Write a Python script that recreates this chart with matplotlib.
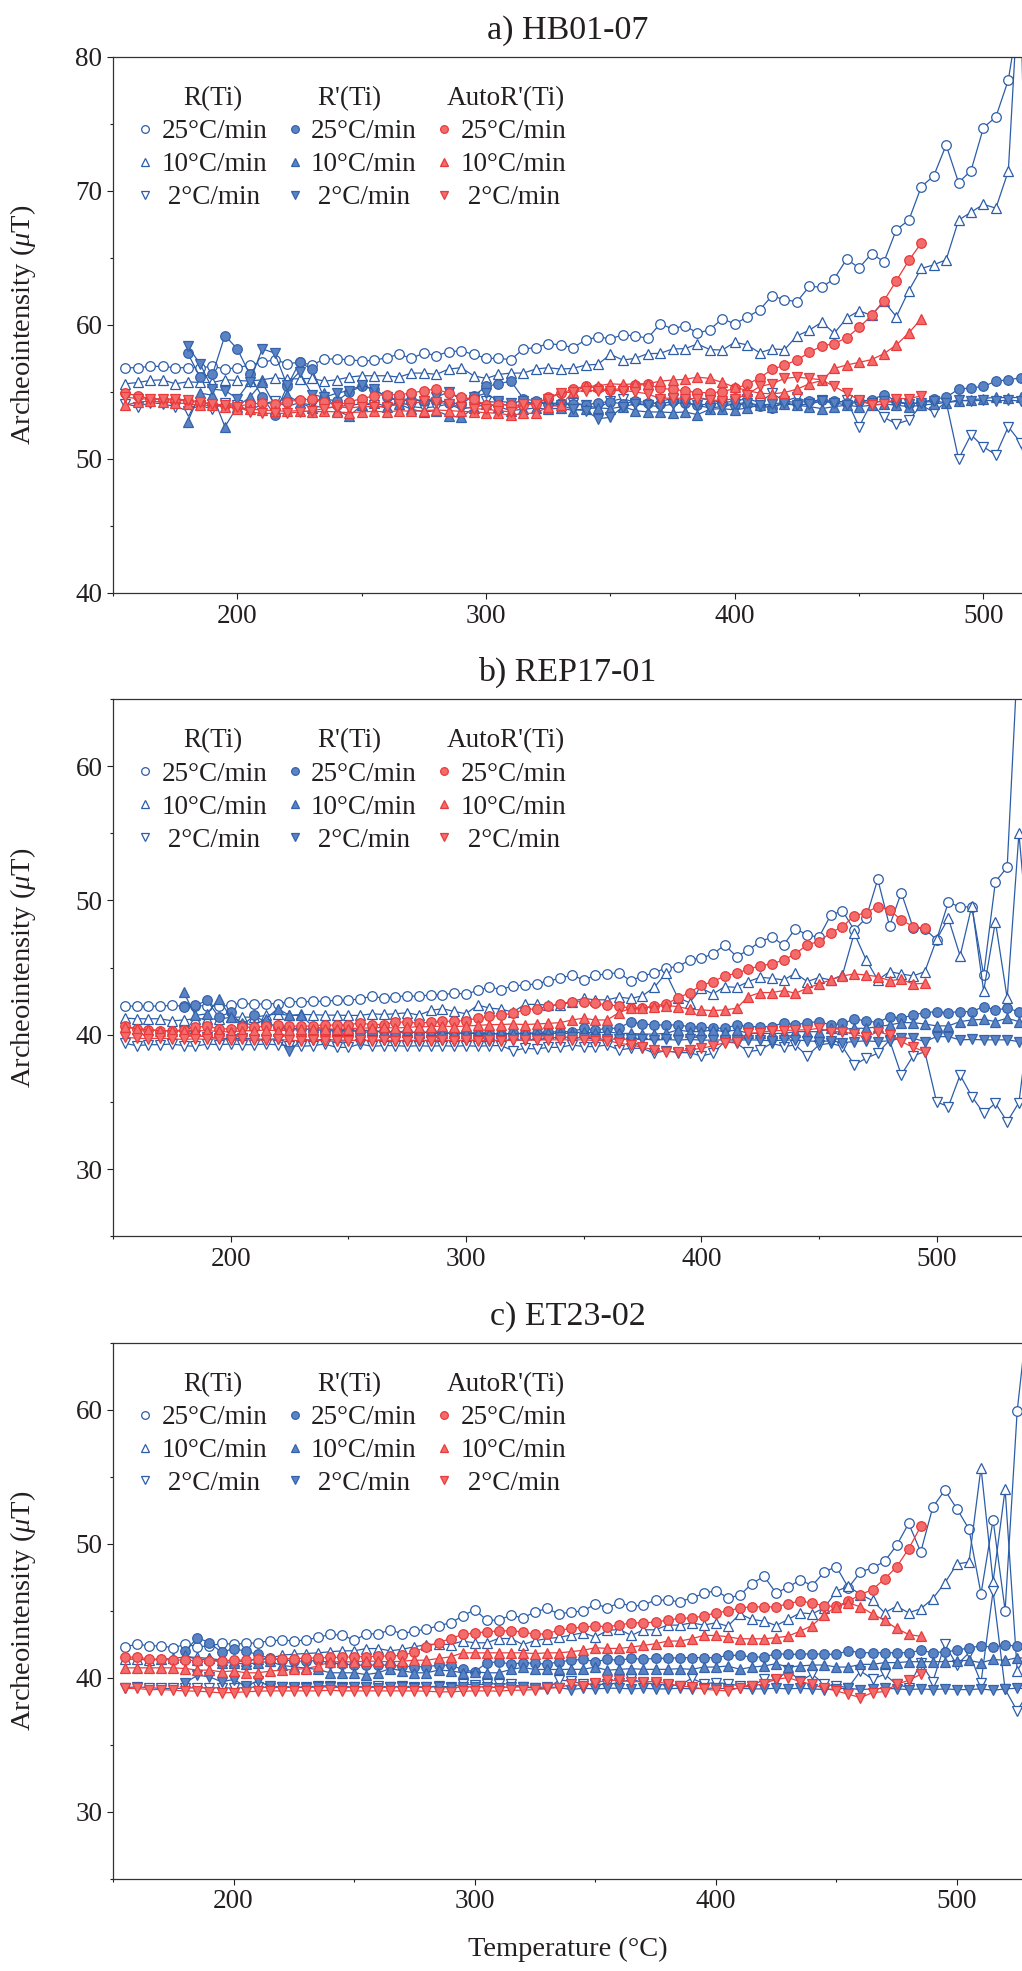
import numpy as np
import matplotlib
matplotlib.use("Agg")
import matplotlib.pyplot as plt
from matplotlib.ticker import MultipleLocator
from matplotlib.lines import Line2D

plt.rcParams['font.family'] = ['Liberation Serif', 'DejaVu Serif']
plt.rcParams['mathtext.fontset'] = 'custom'
plt.rcParams['mathtext.rm'] = 'Liberation Serif'
plt.rcParams['mathtext.it'] = 'Liberation Serif:italic'
TXT = '#231f20'
plt.rcParams['text.color'] = TXT
plt.rcParams['axes.labelcolor'] = TXT
plt.rcParams['xtick.color'] = TXT
plt.rcParams['ytick.color'] = TXT

# ---------------- data (temperature step 5 °C) ----------------
titles = ["a) HB01-07", "b) REP17-01", "c) ET23-02"]
rate_labels = ["25°C/min", "10°C/min", " 2°C/min"]
group_labels = ["R(Ti)", "R'(Ti)", "AutoR'(Ti)"]
xlims = [(150, 515.5), (150, 536.3), (150, 527)]
ylims = [(40, 80), (25, 65), (25, 65)]
yticks_a = [40, 50, 60, 70, 80]
yticks_bc = [30, 40, 50, 60]
xticks = [200, 300, 400, 500]

# ---- panel a: HB01-07 ----
a_R25_start = 155
a_R25 = [56.8, 56.8, 56.9, 56.9, 56.8, 56.8, 56.8, 56.9, 56.7, 56.8,
         57.0, 57.2, 57.4, 57.1, 57.2, 57.0, 57.45, 57.45, 57.4, 57.3,
         57.35, 57.55, 57.8, 57.5, 57.9, 57.7, 58.0, 58.05, 57.8, 57.5,
         57.5, 57.4, 58.2, 58.3, 58.6, 58.5, 58.3, 58.87, 59.1, 58.95,
         59.26, 59.17, 59.0, 60.07, 59.7, 59.94, 59.37, 59.64, 60.46, 60.06,
         60.58, 61.1, 62.17, 61.87, 61.72, 62.87, 62.8, 63.44, 64.9, 64.24,
         65.3, 64.71, 67.1, 67.8, 70.3, 71.1, 73.4, 70.6, 71.5, 74.7,
         75.5, 78.26, 84.0, 45.0]
a_R10_start = 155
a_R10 = [55.6, 55.7, 55.85, 55.9, 55.6, 55.75, 55.7, 55.7, 55.9, 55.85,
         55.8, 55.9, 56.05, 55.95, 55.98, 56.0, 55.8, 55.9, 56.1, 56.2,
         56.2, 56.2, 56.1, 56.4, 56.4, 56.3, 56.7, 56.8, 56.2, 56.0,
         56.3, 56.4, 56.4, 56.7, 56.8, 56.7, 56.75, 57.0, 57.05, 57.8,
         57.37, 57.5, 57.85, 57.87, 58.2, 58.22, 58.57, 58.15, 58.12, 58.7,
         58.5, 57.92, 58.2, 58.15, 59.17, 59.6, 60.2, 59.37, 60.5, 61.05,
         60.7, 61.75, 60.6, 62.55, 64.2, 64.47, 64.85, 67.8, 68.4, 68.98,
         68.7, 71.47, 88.0]
a_R2_start = 155
a_R2 = [54.1, 53.9, 54.2, 54.1, 53.9, 53.6, 54.0, 53.7, 54.2, 54.0,
        53.6, 54.1, 54.3, 53.9, 54.2, 54.0, 53.8, 53.9, 54.0, 54.1,
        54.0, 53.8, 54.3, 53.9, 53.8, 53.9, 54.1, 53.7, 53.9, 54.3,
        54.2, 53.9, 54.0, 54.2, 54.1, 53.9, 54.2, 54.0, 53.8, 54.3,
        54.5, 54.2, 54.0, 54.3, 54.5, 54.3, 54.6, 54.4, 54.2, 54.3,
        54.5, 54.2, 54.9, 54.3, 54.6, 54.2, 54.4, 54.1, 54.4, 52.4,
        54.2, 53.1, 52.6, 52.9, 54.0, 53.5, 54.25, 50.0, 51.8, 50.9,
        50.3, 52.4, 51.2, 47.0]
a_Rp25_start = 180
a_Rp25 = [57.9, 56.1, 56.3, 59.2, 58.2, 56.3, 54.6, 53.3, 55.4, 57.2,
          56.7, 54.5, 54.3, 55.0, 55.4, 55.2, 54.6, 54.3, 54.4, 54.3,
          54.4, 54.2, 54.1, 54.7, 55.4, 55.6, 55.8, 54.5, 54.3, 54.1,
          54.2, 54.1, 54.0, 54.2, 54.25, 54.1, 54.3, 54.2, 54.1, 54.3,
          54.2, 54.0, 54.1, 54.2, 54.0, 54.1, 53.95, 53.8, 54.3, 54.2,
          54.3, 54.4, 54.35, 54.2, 54.3, 54.4, 54.8, 54.3, 54.1, 54.2,
          54.45, 54.6, 55.2, 55.3, 55.4, 55.8, 55.9, 56.05]
a_Rp10_start = 180
a_Rp10 = [52.75, 54.9, 54.75, 52.4, 53.9, 54.6, 55.7, 54.0, 54.75, 54.2,
          53.8, 54.9, 53.6, 53.2, 54.0, 54.2, 53.9, 54.1, 53.7, 53.5,
          53.6, 53.2, 53.1, 53.8, 54.1, 53.9, 53.6, 53.7, 53.8, 53.7,
          53.8, 53.6, 53.75, 53.8, 53.75, 53.9, 53.6, 53.5, 53.5, 53.45,
          53.5, 53.3, 53.7, 53.75, 53.65, 53.8, 54.0, 53.9, 54.1, 54.0,
          53.9, 53.75, 53.9, 54.0, 53.9, 54.0, 54.1, 54.0, 53.9, 54.0,
          54.1, 54.2, 54.3, 54.4, 54.5, 54.6, 54.55, 54.6]
a_Rp2_start = 180
a_Rp2 = [58.4, 57.1, 55.2, 55.1, 54.5, 55.75, 58.2, 57.9, 55.5, 56.5,
         54.8, 54.6, 54.9, 55.1, 55.5, 55.2, 54.6, 54.4, 54.5, 54.3,
         54.6, 55.0, 54.4, 54.6, 54.9, 54.3, 54.2, 54.3, 54.1, 54.2,
         54.0, 53.7, 53.6, 53.0, 53.1, 53.9, 54.1, 54.0, 53.9, 54.1,
         54.2, 54.0, 53.8, 53.9, 54.1, 54.2, 54.0, 54.1, 54.2, 54.0,
         54.1, 54.3, 54.2, 54.0, 54.3, 54.2, 54.3, 54.2, 54.1, 54.2,
         54.3, 54.2, 54.4, 54.3, 54.4, 54.3, 54.4, 54.3]
a_A25_start = 155
a_A25 = [54.9, 54.7, 54.5, 54.4, 54.4, 54.3, 54.2, 54.1, 54.0, 53.9,
         54.1, 54.15, 54.1, 54.25, 54.4, 54.45, 54.25, 54.0, 54.25, 54.5,
         54.7, 54.8, 54.8, 54.9, 55.1, 55.2, 54.9, 54.6, 54.45, 54.0,
         54.05, 54.0, 54.0, 54.1, 54.6, 54.9, 55.2, 55.44, 55.26, 55.14,
         55.26, 55.5, 55.55, 55.26, 55.18, 55.08, 54.94, 54.94, 55.0, 55.26,
         55.55, 56.05, 56.67, 57.0, 57.37, 57.95, 58.42, 58.6, 59.04, 59.8,
         60.7, 61.8, 63.3, 64.8, 66.1]
a_A10_start = 155
a_A10 = [54.0, 54.25, 54.3, 54.25, 54.2, 54.1, 54.0, 54.0, 53.9, 53.75,
         53.7, 53.65, 53.6, 53.55, 53.6, 53.5, 53.55, 53.5, 53.45, 53.5,
         53.55, 53.5, 53.6, 53.55, 53.6, 53.65, 53.6, 53.55, 53.5, 53.45,
         53.4, 53.25, 53.4, 53.4, 53.9, 54.0, 55.0, 55.4, 55.45, 55.6,
         55.55, 55.6, 55.6, 55.8, 55.88, 55.93, 56.1, 56.0, 55.7, 55.35,
         55.1, 54.9, 54.85, 54.95, 55.2, 55.6, 55.85, 56.75, 57.0, 57.2,
         57.4, 57.85, 58.5, 59.4, 60.45]
a_A2_start = 155
a_A2 = [54.6, 54.5, 54.45, 54.5, 54.45, 54.4, 54.25, 54.1, 54.0, 53.9,
        53.5, 53.4, 53.4, 53.4, 53.5, 53.6, 53.75, 53.9, 53.8, 53.9,
        53.9, 53.9, 54.1, 54.1, 54.3, 54.25, 54.1, 53.9, 53.75, 53.7,
        53.6, 53.5, 54.1, 54.1, 54.5, 54.9, 55.0, 55.1, 55.1, 55.1,
        55.1, 55.0, 54.85, 54.5, 54.55, 54.5, 54.5, 54.4, 54.35, 54.5,
        54.8, 55.4, 55.6, 56.0, 56.1, 56.0, 55.9, 55.4, 54.9, 54.4,
        54.0, 54.1, 54.5, 54.5, 54.7]

# ---- panel b: REP17-01 ----
b_R25_start = 155
b_R25 = [42.13, 42.13, 42.13, 42.13, 42.18, 42.13, 42.15, 42.16, 42.13, 42.18,
         42.36, 42.26, 42.31, 42.31, 42.46, 42.46, 42.48, 42.51, 42.56, 42.56,
         42.68, 42.86, 42.73, 42.83, 42.9, 42.86, 42.98, 42.98, 43.1, 43.03,
         43.3, 43.56, 43.36, 43.66, 43.68, 43.8, 44.0, 44.2, 44.45, 44.08,
         44.43, 44.53, 44.63, 44.0, 44.4, 44.58, 45.0, 45.05, 45.57, 45.7,
         46.02, 46.69, 45.82, 46.3, 46.94, 47.26, 46.69, 47.9, 47.43, 47.26,
         48.9, 49.24, 47.8, 48.67, 51.58, 48.1, 50.58, 47.98, 47.88, 47.06,
         49.89, 49.49, 49.54, 44.45, 51.4, 52.47, 70.0, 60.0]
b_R10_start = 155
b_R10 = [41.24, 41.19, 41.19, 41.19, 41.04, 41.1, 41.19, 41.19, 41.15, 41.31,
         41.31, 41.31, 41.44, 41.56, 41.44, 41.51, 41.49, 41.46, 41.46, 41.44,
         41.44, 41.56, 41.51, 41.56, 41.64, 41.46, 41.81, 41.94, 41.74, 41.56,
         42.21, 41.99, 41.9, 41.69, 42.26, 42.26, 42.21, 42.18, 42.47, 42.7,
         42.6, 42.6, 42.8, 42.7, 42.9, 43.53, 44.58, 42.77, 42.39, 43.46,
         43.04, 43.58, 43.53, 43.96, 44.28, 44.2, 44.08, 44.58, 43.96, 44.26,
         44.08, 44.45, 47.56, 45.6, 44.08, 44.7, 44.53, 44.38, 44.7, 47.1,
         48.67, 45.87, 49.62, 43.26, 48.42, 42.72, 55.0, 45.0]
b_R2_start = 155
b_R2 = [39.36, 39.19, 39.26, 39.26, 39.31, 39.19, 39.14, 39.31, 39.26, 39.31,
        39.26, 39.26, 39.31, 39.25, 39.19, 39.14, 39.19, 39.31, 39.06, 39.06,
        39.31, 39.14, 39.19, 39.19, 39.14, 39.19, 39.14, 39.19, 39.14, 39.19,
        39.14, 39.19, 39.19, 38.81, 38.99, 38.94, 39.06, 39.06, 39.24, 39.12,
        39.12, 39.24, 38.87, 38.99, 38.99, 38.62, 38.82, 38.67, 38.67, 38.42,
        38.62, 39.49, 39.37, 38.74, 38.87, 39.37, 39.12, 39.24, 38.42, 39.24,
        39.37, 39.12, 37.75, 38.25, 38.62, 39.6, 37.01, 38.42, 38.74, 35.0,
        34.65, 37.0, 35.4, 34.15, 34.9, 33.53, 34.95, 42.0]
b_Rp25_start = 180
b_Rp25 = [42.06, 42.18, 42.56, 41.31, 41.69, 40.69, 41.44, 40.9, 40.6, 40.5,
          40.45, 40.4, 40.3, 40.3, 40.35, 40.2, 40.2, 40.25, 40.15, 40.2,
          40.15, 40.2, 40.1, 40.15, 40.1, 40.15, 40.1, 40.05, 40.1, 40.1,
          40.15, 40.2, 40.23, 40.23, 40.48, 40.35, 40.48, 40.48, 40.98, 40.8,
          40.73, 40.73, 40.73, 40.6, 40.6, 40.48, 40.48, 40.73, 40.6, 40.6,
          40.6, 40.9, 40.73, 40.9, 40.98, 40.73, 40.85, 41.15, 41.05, 40.9,
          41.35, 41.23, 41.48, 41.65, 41.72, 41.65, 41.72, 41.72, 42.1, 41.85,
          41.97, 41.72]
b_Rp10_start = 180
b_Rp10 = [43.18, 41.44, 41.56, 42.68, 41.31, 40.9, 40.7, 41.2, 41.94, 41.44,
          41.44, 40.6, 40.45, 40.35, 40.4, 40.3, 40.35, 40.2, 40.25, 40.2,
          40.15, 40.2, 40.1, 40.15, 40.1, 40.1, 40.05, 40.1, 40.05, 40.1,
          40.05, 40.1, 40.1, 40.1, 40.23, 40.1, 40.23, 40.1, 40.1, 40.05,
          40.05, 40.1, 40.36, 40.23, 40.23, 40.36, 40.23, 40.36, 40.1, 40.1,
          40.1, 40.1, 40.23, 40.23, 40.23, 40.48, 40.4, 40.48, 40.48, 40.6,
          40.73, 40.9, 40.9, 40.8, 40.66, 40.66, 40.98, 41.1, 41.15, 40.98,
          41.23, 40.98]
b_Rp2_start = 180
b_Rp2 = [40.26, 40.0, 39.8, 39.75, 39.7, 39.75, 39.7, 39.65, 39.7, 38.76,
         39.65, 39.6, 39.65, 39.6, 39.6, 39.55, 39.6, 39.6, 39.55, 39.6,
         39.55, 39.6, 39.6, 39.55, 39.6, 39.6, 39.55, 39.6, 39.6, 39.6,
         39.65, 39.7, 39.86, 39.8, 39.75, 39.7, 39.65, 39.7, 39.65, 39.7,
         39.6, 39.65, 39.6, 39.65, 39.6, 39.6, 39.62, 39.6, 39.62, 39.6,
         39.55, 39.6, 39.62, 39.55, 39.49, 39.55, 39.42, 39.49, 39.55, 39.49,
         39.55, 39.74, 39.74, 39.49, 39.86, 39.86, 39.62, 39.65, 39.62, 39.62,
         39.62, 39.49]
b_A25_start = 155
b_A25 = [40.64, 40.44, 40.39, 40.31, 40.26, 40.39, 40.56, 40.64, 40.44, 40.44,
         40.56, 40.56, 40.64, 40.69, 40.64, 40.64, 40.64, 40.76, 40.69, 40.76,
         40.86, 40.76, 40.76, 40.94, 40.94, 40.86, 40.94, 41.01, 41.01, 41.06,
         41.24, 41.36, 41.44, 41.61, 41.86, 41.94, 42.11, 42.31, 42.47, 42.47,
         42.34, 42.22, 42.15, 41.97, 42.0, 42.15, 42.3, 42.72, 43.14, 43.68,
         43.96, 44.38, 44.58, 44.87, 45.15, 45.27, 45.57, 46.02, 46.71, 46.94,
         47.6, 48.05, 48.85, 49.1, 49.54, 49.29, 48.55, 48.05, 47.93]
b_A10_start = 155
b_A10 = [40.56, 40.45, 40.35, 40.3, 40.3, 40.25, 40.3, 40.3, 40.25, 40.2,
         40.3, 40.3, 40.35, 40.3, 40.35, 40.4, 40.4, 40.45, 40.4, 40.45,
         40.5, 40.5, 40.55, 40.5, 40.55, 40.6, 40.6, 40.65, 40.6, 40.65,
         40.7, 40.75, 40.76, 40.8, 40.76, 40.8, 40.85, 40.9, 41.1, 41.23,
         41.1, 41.1, 41.65, 41.97, 41.97, 42.1, 42.17, 42.1, 41.9, 41.85,
         41.8, 41.85, 41.97, 42.84, 43.14, 43.14, 43.29, 43.09, 43.46, 43.78,
         44.08, 44.38, 44.53, 44.45, 44.33, 44.03, 44.13, 43.78, 43.83]
b_A2_start = 155
b_A2 = [39.8, 39.75, 39.7, 39.75, 39.7, 39.65, 39.7, 39.65, 39.7, 39.6,
        39.65, 39.6, 39.6, 39.65, 39.6, 39.55, 39.6, 39.55, 39.5, 39.55,
        39.6, 39.55, 39.6, 39.55, 39.55, 39.6, 39.55, 39.6, 39.55, 39.6,
        39.55, 39.6, 39.55, 39.6, 39.6, 39.6, 39.62, 39.62, 39.62, 39.62,
        39.57, 39.57, 39.37, 39.24, 39.07, 38.87, 38.74, 38.74, 38.87, 38.99,
        39.17, 39.42, 39.49, 40.11, 40.16, 40.31, 40.31, 40.36, 40.36, 40.48,
        40.23, 40.23, 40.04, 39.81, 40.23, 39.98, 39.49, 39.07, 38.74]

# ---- panel c: ET23-02 ----
c_R25_start = 155
c_R25 = [42.29, 42.49, 42.36, 42.36, 42.21, 42.49, 42.29, 42.36, 42.54, 42.49,
         42.54, 42.59, 42.74, 42.79, 42.74, 42.79, 42.99, 43.21, 43.16, 42.79,
         43.23, 43.28, 43.53, 43.28, 43.46, 43.61, 43.86, 44.08, 44.58, 45.07,
         44.28, 44.28, 44.65, 44.45, 44.9, 45.15, 44.73, 44.9, 44.95, 45.5,
         45.2, 45.57, 45.32, 45.4, 45.79, 45.77, 45.65, 45.94, 46.27, 46.49,
         45.94, 46.14, 47.01, 47.55, 46.31, 46.74, 47.28, 46.86, 47.88, 48.27,
         46.7, 47.88, 48.18, 48.67, 49.86, 51.5, 49.37, 52.71, 53.98, 52.59,
         51.08, 46.24, 51.77, 45.0, 59.88, 68.0]
c_R10_start = 155
c_R10 = [41.37, 41.37, 41.29, 41.37, 41.42, 41.54, 41.5, 41.42, 41.3, 41.2,
         41.22, 41.37, 41.42, 41.67, 41.74, 41.79, 41.84, 41.92, 41.99, 41.99,
         42.16, 42.16, 41.99, 42.11, 42.29, 42.46, 42.49, 42.46, 42.71, 42.59,
         42.59, 42.91, 42.91, 42.46, 42.74, 42.91, 42.99, 43.17, 43.34, 43.02,
         43.51, 43.59, 43.14, 43.56, 43.56, 43.91, 43.91, 44.08, 43.91, 44.08,
         43.83, 44.75, 44.33, 44.21, 43.88, 44.33, 44.83, 44.75, 45.2, 46.44,
         46.81, 46.19, 45.75, 44.83, 45.32, 44.83, 45.13, 45.89, 47.06, 48.47,
         48.62, 55.67, 47.13, 54.05, 40.5, 42.0]
c_R2_start = 155
c_R2 = [39.25, 39.3, 39.25, 39.18, 39.18, 39.2, 39.25, 39.2, 39.25, 39.2,
        39.25, 39.3, 39.25, 39.3, 39.25, 39.3, 39.35, 39.4, 39.3, 39.3,
        39.3, 39.35, 39.3, 39.35, 39.3, 39.3, 39.35, 39.3, 39.5, 39.45,
        39.5, 39.55, 39.5, 39.3, 39.2, 39.15, 39.8, 39.74, 39.49, 39.49,
        39.49, 39.62, 39.87, 39.62, 39.49, 39.45, 39.4, 39.94, 39.54, 39.62,
        39.54, 39.37, 39.37, 39.87, 39.79, 40.54, 39.74, 40.24, 39.49, 39.37,
        39.25, 40.49, 39.87, 40.24, 39.49, 39.25, 41.11, 39.69, 42.47, 40.93,
        41.85, 39.62, 46.44, 39.12, 37.51, 39.0]
c_Rp25_start = 180
c_Rp25 = [41.99, 42.96, 42.61, 41.87, 42.16, 41.96, 41.72, 41.42, 41.3, 41.25,
          41.2, 41.29, 41.1, 41.0, 40.95, 40.9, 40.95, 40.9, 40.85, 40.8,
          40.8, 40.92, 40.92, 40.6, 40.42, 41.1, 41.17, 41.0, 41.1, 41.05,
          41.0, 41.17, 41.28, 41.36, 41.18, 41.36, 41.28, 41.43, 41.36, 41.43,
          41.43, 41.48, 41.48, 41.48, 41.48, 41.65, 41.65, 41.53, 41.53, 41.78,
          41.73, 41.73, 41.78, 41.73, 41.73, 42.0, 41.85, 41.85, 41.85, 41.85,
          41.85, 42.03, 41.85, 41.92, 42.03, 42.22, 42.35, 42.27, 42.42, 42.35, 42.3]
c_Rp10_start = 180
c_Rp10 = [41.67, 41.29, 41.42, 41.1, 41.1, 41.0, 41.1, 41.2, 40.9, 40.8,
          40.7, 40.6, 40.35, 40.35, 40.35, 40.22, 40.35, 40.67, 40.5, 40.35,
          40.35, 40.55, 40.5, 40.35, 40.42, 40.35, 40.35, 40.6, 40.75, 40.6,
          40.6, 40.6, 40.61, 40.61, 40.78, 40.54, 40.61, 40.66, 40.61, 40.61,
          40.61, 40.66, 40.61, 40.78, 40.78, 40.86, 40.61, 40.78, 40.86, 41.03,
          40.78, 40.86, 40.93, 40.93, 40.78, 40.78, 40.98, 40.98, 41.11, 41.11,
          41.18, 41.18, 41.18, 41.18, 41.23, 41.28, 41.1, 41.35, 41.28, 41.48, 41.4]
c_Rp2_start = 180
c_Rp2 = [39.6, 40.17, 40.05, 39.68, 39.85, 39.35, 39.75, 39.35, 39.3, 39.3,
         39.25, 39.3, 39.3, 39.25, 39.3, 39.3, 39.25, 39.3, 39.3, 39.25,
         39.3, 39.3, 39.25, 39.3, 39.3, 39.3, 39.25, 39.3, 39.3, 39.25,
         39.3, 39.25, 39.1, 39.2, 39.15, 39.2, 39.2, 39.15, 39.2, 39.15,
         39.15, 39.2, 39.15, 39.2, 39.2, 39.15, 39.2, 39.15, 39.15, 39.2,
         39.15, 39.2, 39.15, 39.1, 39.15, 39.2, 39.1, 39.15, 39.2, 39.15,
         39.1, 39.15, 39.1, 39.15, 39.1, 39.1, 39.15, 39.05, 39.15, 39.2, 39.15]
c_A25_start = 155
c_A25 = [41.54, 41.5, 41.4, 41.35, 41.3, 41.3, 41.25, 41.2, 41.25, 41.3,
         41.3, 41.35, 41.35, 41.4, 41.4, 41.45, 41.45, 41.5, 41.5, 41.55,
         41.55, 41.6, 41.6, 41.65, 41.9, 42.3, 42.59, 42.91, 43.21, 43.33,
         43.41, 43.48, 43.48, 43.41, 43.21, 43.28, 43.53, 43.66, 43.76, 43.83,
         43.8, 43.91, 44.08, 44.08, 44.13, 44.28, 44.41, 44.45, 44.58, 44.83,
         44.95, 45.2, 45.27, 45.27, 45.27, 45.52, 45.69, 45.57, 45.32, 45.32,
         45.69, 46.19, 46.56, 47.36, 48.25, 49.61, 51.27]
c_A10_start = 155
c_A10 = [40.72, 40.72, 40.72, 40.72, 40.72, 40.67, 40.55, 40.55, 40.42, 40.5,
         40.35, 40.35, 40.47, 40.55, 40.6, 40.67, 40.85, 41.17, 41.17, 41.17,
         41.22, 41.22, 41.17, 41.22, 41.29, 41.29, 41.42, 41.54, 41.84, 41.84,
         41.84, 41.84, 41.84, 41.84, 41.79, 41.84, 41.84, 41.93, 42.03, 42.22,
         42.17, 42.17, 42.27, 42.4, 42.52, 42.72, 42.72, 42.89, 43.14, 43.14,
         43.04, 42.89, 42.89, 42.89, 42.97, 43.09, 43.46, 43.88, 44.7, 45.27,
         45.57, 45.27, 44.75, 44.26, 43.66, 43.21, 43.07]
c_A2_start = 155
c_A2 = [39.18, 39.18, 39.1, 39.1, 39.05, 39.0, 38.98, 38.93, 38.85, 38.88,
        38.93, 38.98, 39.0, 39.0, 39.0, 39.0, 39.0, 39.05, 39.0, 39.0,
        39.0, 39.0, 39.0, 39.0, 39.0, 38.98, 38.93, 38.93, 38.98, 39.0,
        39.0, 38.98, 39.05, 39.05, 39.1, 39.18, 39.25, 39.49, 39.37, 39.62,
        39.79, 39.79, 39.69, 39.69, 39.69, 39.54, 39.37, 39.3, 39.12, 39.05,
        39.0, 39.25, 39.37, 39.54, 39.87, 39.99, 39.69, 39.49, 39.2, 39.0,
        38.75, 38.5, 38.87, 38.95, 39.49, 39.79, 40.24]

panels = [
    [(a_R25_start, a_R25), (a_R10_start, a_R10), (a_R2_start, a_R2),
     (a_Rp25_start, a_Rp25), (a_Rp10_start, a_Rp10), (a_Rp2_start, a_Rp2),
     (a_A25_start, a_A25), (a_A10_start, a_A10), (a_A2_start, a_A2)],
    [(b_R25_start, b_R25), (b_R10_start, b_R10), (b_R2_start, b_R2),
     (b_Rp25_start, b_Rp25), (b_Rp10_start, b_Rp10), (b_Rp2_start, b_Rp2),
     (b_A25_start, b_A25), (b_A10_start, b_A10), (b_A2_start, b_A2)],
    [(c_R25_start, c_R25), (c_R10_start, c_R10), (c_R2_start, c_R2),
     (c_Rp25_start, c_Rp25), (c_Rp10_start, c_Rp10), (c_Rp2_start, c_Rp2),
     (c_A25_start, c_A25), (c_A10_start, c_A10), (c_A2_start, c_A2)],
]

# ---------------- styles ----------------
BLUE = '#2c5da9'
BLUE_FILL = '#5a83c4'
BLUE_EDGE = '#3462ab'
RED = '#e93a3c'
RED_FILL = '#f36c6c'
group_styles = [
    dict(color=BLUE, mfc='white', mec=BLUE),
    dict(color=BLUE, mfc=BLUE_FILL, mec=BLUE_EDGE),
    dict(color=RED, mfc=RED_FILL, mec=RED),
]
markers = ['o', '^', 'v']
msizes = {'o': 6.9, '^': 7.6, 'v': 7.6}

W, H = 1022, 1971
fig = plt.figure(figsize=(W / 100, H / 100), dpi=100)
axes_px = [(56.6, 593.0), (699.0, 1236.2), (1342.5, 1878.5)]
left_px = 113.0

for p, (top, bot) in enumerate(axes_px):
    ax = fig.add_axes([left_px / W, 1 - bot / H, (W - left_px) / W, (bot - top) / H])
    proxies = []
    for g in range(3):
        for r in range(3):
            start, vals = panels[p][g * 3 + r]
            T = np.arange(start, start + 5 * len(vals), 5)
            st = group_styles[g]
            m = markers[r]
            ax.plot(T, vals, color=st['color'], lw=0.9, marker=m,
                    ms=msizes[m], mfc=st['mfc'], mec=st['mec'], mew=0.9)
            proxies.append(Line2D([], [], ls='none', marker=m, ms=msizes[m] * 0.8,
                                  mfc=st['mfc'], mec=st['mec'], mew=0.9,
                                  label=rate_labels[r]))
    ax.set_xlim(*xlims[p])
    ax.set_ylim(*ylims[p])
    ax.set_xticks(xticks)
    ax.set_yticks(yticks_a if p == 0 else yticks_bc)
    ax.xaxis.set_minor_locator(MultipleLocator(50))
    ax.yaxis.set_minor_locator(MultipleLocator(5))
    ax.tick_params(which='major', direction='out', length=4.6, width=0.8,
                   labelsize=19.5, pad=3)
    ax.tick_params(which='minor', direction='out', length=2.2, width=0.8)
    ax.spines['right'].set_visible(False)
    for s in ['left', 'bottom', 'top']:
        ax.spines[s].set_linewidth(0.9)
        ax.spines[s].set_color('#333333')
    ax.set_title(titles[p], fontsize=24.5, pad=13)
    ax.set_ylabel(r'Archeointensity ($\mu$T)', fontsize=20.5)
    ax.yaxis.set_label_coords(-0.083, 0.5)
    if p == 2:
        ax.set_xlabel('Temperature (°C)', fontsize=20.5)
        ax.xaxis.set_label_coords(0.5, -0.108)

    leg = ax.legend(handles=proxies, ncol=3, loc='upper left',
                    bbox_to_anchor=(0.0264, 0.883), frameon=False,
                    fontsize=19.5, borderpad=0, borderaxespad=0,
                    handlelength=0.6, handletextpad=0.3, columnspacing=0.72,
                    labelspacing=0.29)
    for t in leg.get_texts():
        t.set_color(TXT)
    hdr_x = [0.110, 0.2596, 0.4323]
    for gx, gl in zip(hdr_x, group_labels):
        ax.text(gx, 0.922, gl, transform=ax.transAxes, ha='center', va='center',
                fontsize=19.5, color=TXT)

fig.savefig('out.png', dpi=100)
